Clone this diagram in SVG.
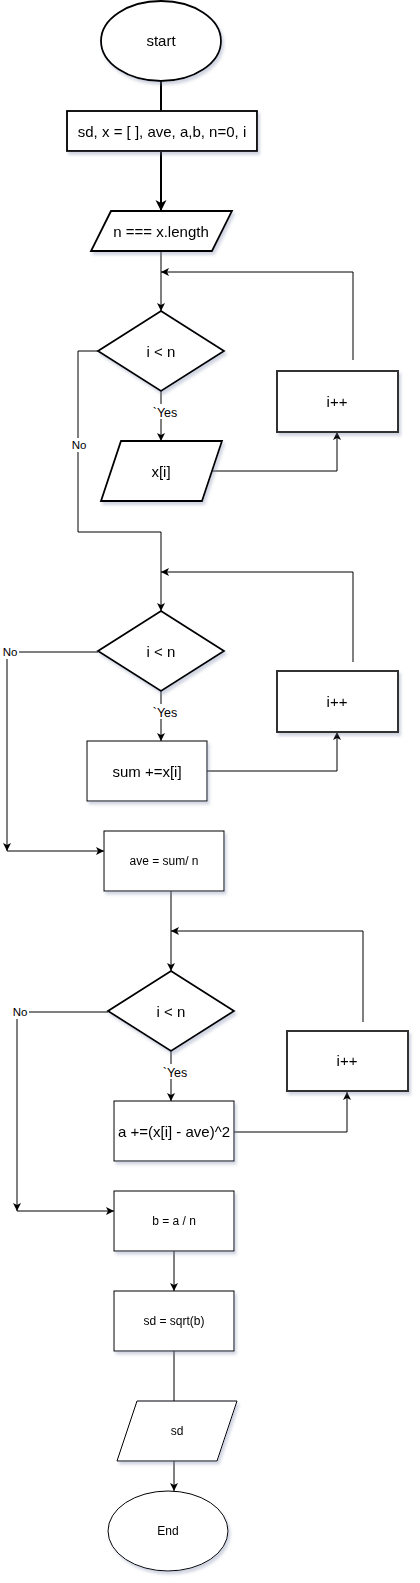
<svg xmlns="http://www.w3.org/2000/svg" width="420" height="1583" viewBox="0 0 420 1583">
<style>
.bg{fill:#ffffff}
.n{fill:#ffffff;stroke:#000000;stroke-width:1}
.n2{fill:#ffffff;stroke:#000000;stroke-width:1.8}
.inc{fill:#ffffff;stroke:#333333;stroke-width:2}
.t{font-family:"Liberation Sans",Arial,Helvetica,sans-serif;font-size:15px;fill:#000000;text-anchor:middle}
.s{font-family:"Liberation Sans",Arial,Helvetica,sans-serif;font-size:12px;fill:#000000;text-anchor:middle}
.lb{font-family:"Liberation Sans",Arial,Helvetica,sans-serif;font-size:11.5px;fill:#000000;text-anchor:middle}
.ly{font-family:"Liberation Sans",Arial,Helvetica,sans-serif;font-size:12.5px;fill:#000000;text-anchor:middle}
.e{fill:none;stroke:#000000;stroke-width:1}
.e2{fill:none;stroke:#000000;stroke-width:2}
.lbg{fill:#ffffff}
</style>
<defs>
<filter id="sh" x="-20%" y="-20%" width="140%" height="140%">
<feDropShadow dx="2" dy="3" stdDeviation="1.5" flood-color="#7a84a8" flood-opacity="0.35"/>
</filter>
<marker id="a" markerUnits="userSpaceOnUse" markerWidth="9" markerHeight="9" refX="8" refY="4" orient="auto">
<path d="M0,0 L8,4 L0,8 L2,4 z" fill="#000000"/>
</marker>
<marker id="a2" markerUnits="userSpaceOnUse" markerWidth="13" markerHeight="13" refX="11" refY="5.5" orient="auto">
<path d="M0,0 L11,5.5 L0,11 L3,5.5 z" fill="#000000"/>
</marker>
</defs>
<rect class="bg" x="0" y="0" width="420" height="1583"/>

<g id="connectors">
<line class="e2" x1="161" y1="81" x2="161" y2="111"/>
<line class="e2" x1="161" y1="152" x2="161" y2="211" marker-end="url(#a2)"/>
<line class="e" x1="161" y1="251" x2="161" y2="311" marker-end="url(#a)"/>
<polyline class="e" points="353,360 353,272 161,272" marker-end="url(#a)"/>
<line class="e" x1="161" y1="391" x2="161" y2="441" marker-end="url(#a)"/>
<polyline class="e" points="212,471 337,471 337,432" marker-end="url(#a)"/>
<polyline class="e" points="98,351 78,351 78,532 161,532 161,611" marker-end="url(#a)"/>
<polyline class="e" points="353,662 353,572 161,572" marker-end="url(#a)"/>
<line class="e" x1="161" y1="691" x2="161" y2="741" marker-end="url(#a)"/>
<polyline class="e" points="207,771 337,771 337,732" marker-end="url(#a)"/>
<polyline class="e" points="98,652 7,652 7,851" marker-end="url(#a)"/>
<line class="e" x1="7" y1="851" x2="104" y2="851" marker-end="url(#a)"/>
<line class="e" x1="171" y1="891" x2="171" y2="971" marker-end="url(#a)"/>
<polyline class="e" points="363,1022 363,931 171,931" marker-end="url(#a)"/>
<line class="e" x1="171" y1="1051" x2="171" y2="1101" marker-end="url(#a)"/>
<polyline class="e" points="234,1132 347,1132 347,1092" marker-end="url(#a)"/>
<polyline class="e" points="108,1012 17,1012 17,1211" marker-end="url(#a)"/>
<line class="e" x1="17" y1="1211" x2="114" y2="1211" marker-end="url(#a)"/>
<line class="e" x1="174" y1="1251" x2="174" y2="1291" marker-end="url(#a)"/>
<line class="e" x1="174" y1="1351" x2="174" y2="1401"/>
<line class="e" x1="174" y1="1461" x2="174" y2="1491" marker-end="url(#a)"/>
<rect class="lbg" x="152" y="404" width="27" height="15"/>
<text class="ly" x="165" y="416.5">`Yes</text>
<rect class="lbg" x="70" y="438" width="18" height="14"/>
<text class="lb" x="79" y="449">No</text>
<rect class="lbg" x="152" y="704" width="27" height="15"/>
<text class="ly" x="165" y="716.5">`Yes</text>
<rect class="lbg" x="1" y="645" width="18" height="14"/>
<text class="lb" x="10" y="656">No</text>
<rect class="lbg" x="162" y="1064" width="27" height="15"/>
<text class="ly" x="175" y="1076.5">`Yes</text>
<rect class="lbg" x="11" y="1005" width="18" height="14"/>
<text class="lb" x="20" y="1016">No</text>
</g>

<g id="start" filter="url(#sh)">
<ellipse class="n2" cx="161" cy="41" rx="60" ry="40"/>
<text class="t" x="161" y="46">start</text>
</g>
<g id="init" filter="url(#sh)">
<rect class="n2" x="67" y="111" width="190" height="40"/>
<text class="t" x="162" y="137">sd, x = [ ], ave, a,b, n=0, i</text>
</g>
<g id="length" filter="url(#sh)">
<polygon class="n2" points="111,211 232,211 212,251 91,251"/>
<text class="t" x="161" y="237">n === x.length</text>
</g>
<g id="cond1" filter="url(#sh)">
<polygon class="n2" points="161,311 224,351 161,391 98,351"/>
<text class="t" x="161" y="357">i &lt; n</text>
</g>
<g id="inc1" filter="url(#sh)">
<rect class="inc" x="277" y="371" width="121" height="61"/>
<text class="t" x="337" y="407">i++</text>
</g>
<g id="input" filter="url(#sh)">
<polygon class="n2" points="121,441 222,441 202,501 101,501"/>
<text class="t" x="161" y="477">x[i]</text>
</g>
<g id="cond2" filter="url(#sh)">
<polygon class="n2" points="161,611 224,651 161,691 98,651"/>
<text class="t" x="161" y="657">i &lt; n</text>
</g>
<g id="inc2" filter="url(#sh)">
<rect class="inc" x="277" y="671" width="121" height="61"/>
<text class="t" x="337" y="707">i++</text>
</g>
<g id="sum" filter="url(#sh)">
<rect class="n" x="87" y="741" width="120" height="60"/>
<text class="t" x="147" y="777">sum +=x[i]</text>
</g>
<g id="ave" filter="url(#sh)">
<rect class="n" x="104" y="831" width="120" height="60"/>
<text class="s" x="164" y="865">ave = sum/ n</text>
</g>
<g id="cond3" filter="url(#sh)">
<polygon class="n2" points="171,971 234,1011 171,1051 108,1011"/>
<text class="t" x="171" y="1017">i &lt; n</text>
</g>
<g id="inc3" filter="url(#sh)">
<rect class="inc" x="287" y="1031" width="121" height="60"/>
<text class="t" x="347" y="1066">i++</text>
</g>
<g id="acc" filter="url(#sh)">
<rect class="n" x="114" y="1101" width="120" height="60"/>
<text class="t" x="174" y="1137">a +=(x[i] - ave)^2</text>
</g>
<g id="bdiv" filter="url(#sh)">
<rect class="n" x="114" y="1191" width="120" height="60"/>
<text class="s" x="174" y="1225">b = a / n</text>
</g>
<g id="sqrt" filter="url(#sh)">
<rect class="n" x="114" y="1291" width="120" height="60"/>
<text class="s" x="174" y="1325">sd = sqrt(b)</text>
</g>
<g id="output" filter="url(#sh)">
<polygon class="n" points="137,1401 237,1401 217,1461 117,1461"/>
<text class="s" x="177" y="1435">sd</text>
</g>
<g id="end" filter="url(#sh)">
<ellipse class="n" cx="168" cy="1531" rx="60" ry="40"/>
<text class="s" x="168" y="1535">End</text>
</g>
</svg>
